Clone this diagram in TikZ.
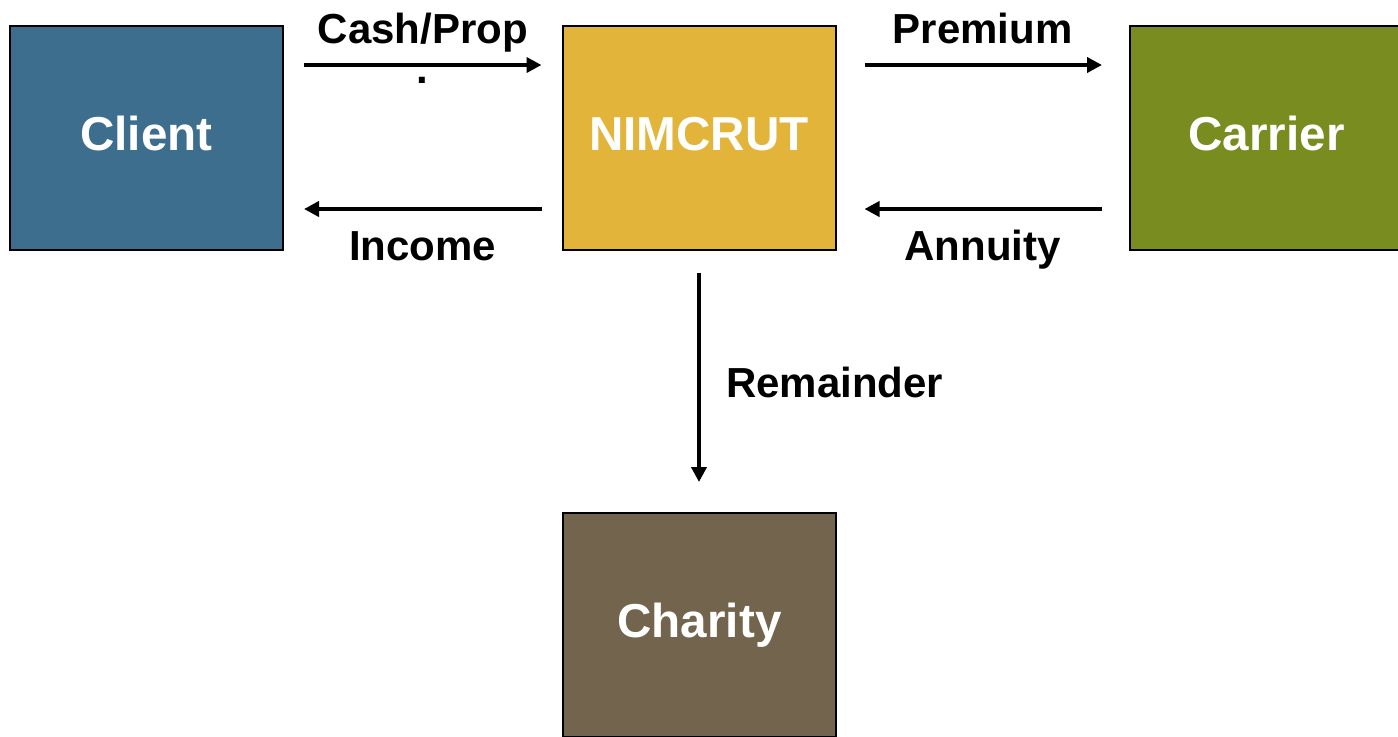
\documentclass[tikz,border=0pt]{standalone}
\usepackage{fontspec}
\setmainfont{Liberation Sans}
\usepackage{tikz}
\usepackage{xcolor}
\usetikzlibrary{positioning, arrows.meta, calc}
\definecolor{cClient}  {HTML}{3D6E8E}
\definecolor{cTrust}   {HTML}{E3B43A}
\definecolor{cCarrier} {HTML}{798C1F}
\definecolor{cCharity} {HTML}{72644D}
\tikzset{
  entity/.style={draw=black, line width=1pt, minimum width=136.5pt,
    minimum height=112pt, inner sep=0pt, text=white,
    text height=17pt, text depth=5pt,
    font=\bfseries\fontsize{23.8}{28}\selectfont},
  flow/.style={line width=2.2pt, -{Triangle[length=7.5pt, width=7.5pt]},
    shorten <=10pt, shorten >=10pt},
  flowlabel/.style={inner sep=0pt, anchor=base,
    font=\bfseries\fontsize{21}{25}\selectfont},
}
\begin{document}
\begin{tikzpicture}[x=0.5pt, y=-0.5pt]
        \useasboundingbox (0, 0) rectangle (1398, 736);
        \clip (0, 0) rectangle (1398, 736);
        % the four parties
        \node[entity, fill=cClient]  (client_box)  at (146.5, 138) {Client};
        \node[entity, fill=cTrust]   (trust_box)   at (699, 138)   {NIMCRUT};
        \node[entity, fill=cCarrier] (carrier_box) at (1266.5, 138) {Carrier};
        \node[entity, fill=cCharity] (charity_box) at (699.5, 625) {Charity};
        % transfers between them
        \draw[flow] ([yshift=36.5pt]client_box.east) -- ([yshift=36.5pt]trust_box.west)
              node[flowlabel, midway, yshift=11pt] (cash_lbl) {Cash/Prop}
              node[flowlabel, midway, yshift=-9pt] (dot_lbl) {.};
        \draw[flow] ([yshift=-35.5pt]trust_box.west) -- ([yshift=-35.5pt]client_box.east)
              node[flowlabel, midway, yshift=-25.5pt] (income_lbl) {Income};
        \draw[flow, shorten <=14pt, shorten >=13.5pt] ([yshift=36.5pt]trust_box.east) -- ([yshift=36.5pt]carrier_box.west)
              node[flowlabel, midway, yshift=11pt] (premium_lbl) {Premium};
        \draw[flow, shorten <=13.5pt, shorten >=14pt] ([yshift=-35.5pt]carrier_box.west) -- ([yshift=-35.5pt]trust_box.east)
              node[flowlabel, midway, yshift=-25.5pt] (annuity_lbl) {Annuity};
        \draw[flow, shorten <=11pt, shorten >=15pt] (trust_box.south) -- (trust_box.south |- charity_box.north)
              node[flowlabel, midway, anchor=base west, xshift=12.5pt, yshift=-7.75pt] (rem_lbl) {Remainder};
      \end{tikzpicture}
\end{document}
